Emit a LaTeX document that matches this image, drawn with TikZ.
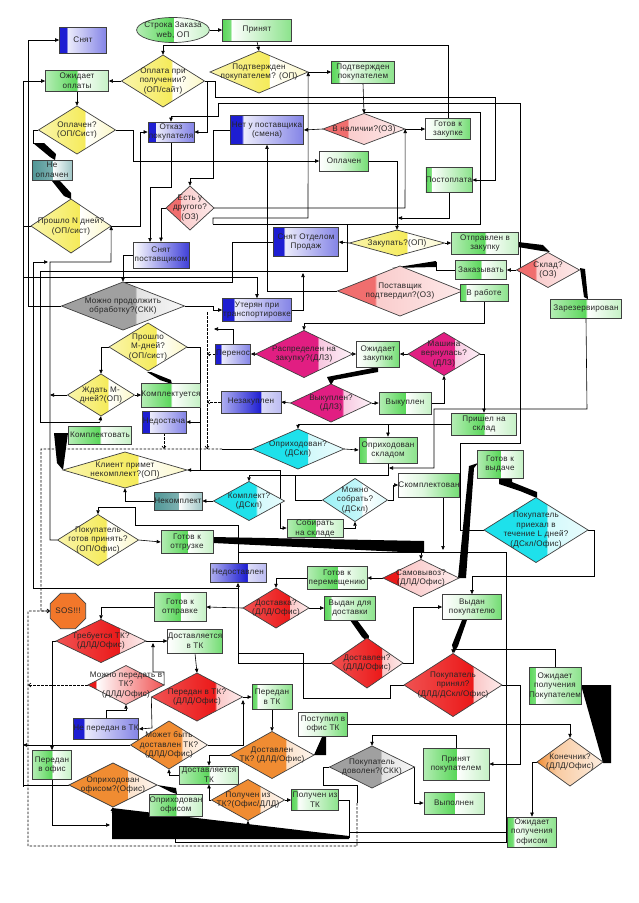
\documentclass[tikz,border=0pt]{standalone}
\usepackage{fontspec}
\setmainfont{Liberation Sans}[LetterSpace=3]
\usetikzlibrary{arrows.meta,shapes.geometric}
\definecolor{G}{RGB}{90,215,90}
\definecolor{B}{RGB}{30,30,210}
\definecolor{T}{RGB}{80,150,150}
\definecolor{Y}{RGB}{245,235,90}
\definecolor{R}{RGB}{235,25,25}
\definecolor{P}{RGB}{240,110,110}
\definecolor{M}{RGB}{225,30,130}
\definecolor{C}{RGB}{30,225,235}
\definecolor{O}{RGB}{240,140,50}
\definecolor{K}{RGB}{160,160,160}
\pgfdeclarehorizontalshading{gS}{100bp}{color(0bp)=(G); color(25bp)=(G); color(31bp)=(G!80!white); color(31.5bp)=(white); color(75bp)=(G!70!white); color(100bp)=(G!70!white)}
\pgfdeclarehorizontalshading{gL}{100bp}{color(0bp)=(G!45!white); color(25bp)=(G!45!white); color(50bp)=(G); color(50.5bp)=(white); color(75bp)=(G!35!white); color(100bp)=(G!35!white)}
\pgfdeclarehorizontalshading{gR}{100bp}{color(0bp)=(white); color(25bp)=(white); color(45bp)=(G!20!white); color(75bp)=(G!85!white); color(100bp)=(G!85!white)}
\pgfdeclarehorizontalshading{bS}{100bp}{color(0bp)=(B); color(25bp)=(B); color(33bp)=(B); color(33.5bp)=(B!8!white); color(75bp)=(B!55!white); color(100bp)=(B!55!white)}
\pgfdeclarehorizontalshading{bR}{100bp}{color(0bp)=(B!35!white); color(25bp)=(B!35!white); color(58bp)=(B); color(58.5bp)=(B!15!white); color(75bp)=(B!30!white); color(100bp)=(B!30!white)}
\pgfdeclarehorizontalshading{bG}{100bp}{color(0bp)=(white); color(25bp)=(white); color(75bp)=(B!85!white); color(100bp)=(B!85!white)}
\pgfdeclarehorizontalshading{tS}{100bp}{color(0bp)=(T); color(25bp)=(T); color(50bp)=(T!75!white); color(50.5bp)=(white); color(75bp)=(T!55!white); color(100bp)=(T!55!white)}
\pgfdeclarehorizontalshading{dY}{100bp}{color(0bp)=(Y!50!white); color(25bp)=(Y!50!white); color(55bp)=(Y); color(55.5bp)=(white); color(75bp)=(Y!35!white); color(100bp)=(Y!35!white)}
\pgfdeclarehorizontalshading{dR}{100bp}{color(0bp)=(R!75!white); color(25bp)=(R!75!white); color(60bp)=(R); color(60.5bp)=(R!25!white); color(75bp)=(R!8!white); color(100bp)=(R!8!white)}
\pgfdeclarehorizontalshading{dRs}{100bp}{color(0bp)=(R); color(25bp)=(R); color(35bp)=(R); color(35.5bp)=(R!25!white); color(75bp)=(R!8!white); color(100bp)=(R!8!white)}
\pgfdeclarehorizontalshading{dRg}{100bp}{color(0bp)=(R); color(25bp)=(R); color(30bp)=(R); color(30.5bp)=(white); color(75bp)=(R!75!white); color(100bp)=(R!75!white)}
\pgfdeclarehorizontalshading{dP}{100bp}{color(0bp)=(P); color(25bp)=(P); color(40bp)=(P); color(40.5bp)=(P!35!white); color(75bp)=(P!15!white); color(100bp)=(P!15!white)}
\pgfdeclarehorizontalshading{dM}{100bp}{color(0bp)=(M); color(25bp)=(M); color(57bp)=(M); color(57.5bp)=(M!25!white); color(75bp)=(M!5!white); color(100bp)=(M!5!white)}
\pgfdeclarehorizontalshading{dC}{100bp}{color(0bp)=(C); color(25bp)=(C); color(55bp)=(C); color(55.5bp)=(C!20!white); color(75bp)=(C!10!white); color(100bp)=(C!10!white)}
\pgfdeclarehorizontalshading{dCl}{100bp}{color(0bp)=(C!45!white); color(25bp)=(C!45!white); color(55bp)=(C!25!white); color(55.5bp)=(white); color(75bp)=(C!15!white); color(100bp)=(C!15!white)}
\pgfdeclarehorizontalshading{dO}{100bp}{color(0bp)=(O); color(25bp)=(O); color(58bp)=(O); color(58.5bp)=(O!25!white); color(75bp)=(O!8!white); color(100bp)=(O!8!white)}
\pgfdeclarehorizontalshading{dOl}{100bp}{color(0bp)=(O); color(25bp)=(O); color(40bp)=(O!45!white); color(75bp)=(O!15!white); color(100bp)=(O!15!white)}
\pgfdeclarehorizontalshading{dK}{100bp}{color(0bp)=(K); color(25bp)=(K); color(55bp)=(K); color(55.5bp)=(K!30!white); color(75bp)=(K!8!white); color(100bp)=(K!8!white)}
\pgfdeclarelayer{bottom}
\pgfdeclarelayer{bg}
\pgfsetlayers{bottom,bg,main}
\tikzset{
  bxs/.style={rectangle,draw=black!75,line width=0.7pt,shade},
  ln/.style={draw=black,line width=0.6pt},
  ar/.style={ln,-{Triangle[length=4pt,width=3.4pt]}},
  dsh/.style={ln,dash pattern=on 2.5pt off 1.5pt,-{Straight Barb[length=2.5pt,width=4pt]}},
}
\newcommand\mybox[7]{\node[bxs,shading=#6,minimum width=#4pt,minimum height=#5pt] (#1) at (#2,#3) {#7};}
\newcommand\mydia[7]{\path[draw=black!75,line width=0.7pt,shade,shading=#6] ({#2-#4/2},#3) -- (#2,{#3-#5/2}) -- ({#2+#4/2},#3) -- (#2,{#3+#5/2}) -- cycle; \node[minimum width=#4pt,minimum height=#5pt] (#1) at (#2,#3) {#7};}
\begin{document}
\begin{tikzpicture}[x=1pt,y=-1pt,every node/.style={font=\fontsize{8.1}{9.7}\selectfont,align=center,inner sep=0pt,text=black!85}]
\begin{pgfonlayer}{bottom}
\fill[white] (0,0) rectangle (638,903);
\end{pgfonlayer}
\useasboundingbox (0,0) rectangle (638,903);
% ---------- nodes
\mybox{snyat}{83}{40}{47}{26}{bS}{Снят}
\node[ellipse,draw=black!75,line width=0.7pt,shade,shading=gL,minimum width=72pt,minimum height=25pt,inner sep=-3pt] (start) at (173,30) {Строка Заказа\\web, ОП};
\mybox{prinyat}{257}{30}{69}{22}{gS}{Принят}
\mybox{ozhopl}{77}{81}{63}{21}{gL}{Ожидает\\оплаты}
\mydia{dOplpol}{163}{81}{83}{52}{dY}{Оплата при\\получении?\\(ОП/сайт)}
\mydia{dPodtv}{259}{72}{98}{42}{dY}{Подтвержден\\покупателем? (ОП)}
\mybox{podtv}{363}{72}{63}{22}{gS}{Подтвержден\\покупателем}
\mydia{dOplachen}{77}{130}{77}{48}{dY}{Оплачен?\\(ОП/Сист)}
\mybox{otkaz}{171}{132}{46}{20}{bS}{Отказ\\покупателя}
\mybox{netpost}{267}{130}{73}{29}{bS}{Нет у поставщика\\(смена)}
\mydia{dVnal}{364}{129}{82}{31}{dP}{В наличии?(ОЗ)}
\mybox{gotzak}{448}{129}{45}{21}{gR}{Готов к\\закупке}
\mybox{oplachen}{344}{161}{49}{20}{gR}{Оплачен}
\mybox{postopl}{449}{180}{46}{25}{gS}{Постоплата}
\mybox{neopl}{52}{170}{40}{20}{tS}{Не\\оплачен}
\mydia{dEst}{190}{208}{48}{44}{dP}{Есть у\\другого?\\(ОЗ)}
\mydia{dNday}{71}{226}{80}{54}{dY}{Прошло N дней?\\(ОП/сист)}
\mybox{snpost}{161}{255}{56}{26}{bG}{Снят\\поставщиком}
\mybox{snop}{306}{242}{65}{29}{bS}{Снят Отделом\\Продаж}
\mydia{dZakup}{397}{243}{95}{26}{dY}{Закупать?(ОП)}
\mybox{otpr}{485}{243}{67}{22}{gL}{Отправлен в\\закупку}
\mydia{dSklad}{548}{270}{63}{35}{dP}{Склад?\\(ОЗ)}
\mybox{zakaz}{481}{270}{51}{19}{gL}{Заказывать}
\mydia{dPostp}{400}{291}{125}{50}{dP}{Поставщик\\подтвердил?(ОЗ)}
\mybox{vrab}{484}{293}{48}{17}{gS}{В работе}
\mybox{zarez}{586}{309}{71}{19}{gL}{Зарезервирован}
\mydia{dMozhno}{123}{306}{123}{48}{dK}{Можно продолжить\\обработку?(СКК)}
\mybox{uteryan}{257}{310}{69}{23}{bS}{Утерян при\\транспортировке}
\mydia{dMdney}{148}{347}{78}{48}{dY}{Прошло\\М-дней?\\(ОП/сист)}
\mybox{perenos}{233}{354}{35}{20}{bS}{Перенос}
\mydia{dRaspr}{304}{354}{97}{47}{dM}{Распределен на\\закупку?(ДЛЗ)}
\mybox{ozhzak}{378}{354}{43}{26}{gR}{Ожидает\\закупки}
\mydia{dMash}{444}{354}{72}{43}{dM}{Машина\\вернулась?\\(ДЛЗ)}
\mydia{dZhdat}{101}{395}{67}{42}{dY}{Ждать М-\\дней?(ОП)}
\mybox{komplts}{171}{395}{56}{24}{gL}{Комплектуется}
\mybox{nezak}{251}{402}{60}{22}{bR}{Незакуплен}
\mydia{dVykup}{331}{403}{81}{38}{dM}{Выкуплен?\\(ДЛЗ)}
\mybox{vykup}{405}{403}{52}{22}{gL}{Выкуплен}
\mybox{nedost}{164}{422}{44}{22}{bS}{Недостача}
\mybox{prishel}{484}{424}{65}{22}{gL}{Пришел на\\склад}
\mybox{komplvt}{100}{435}{63}{18}{gL}{Комплектовать}
\mydia{dOprih}{298}{449}{92}{40}{dC}{Оприходован?\\(ДСкл)}
\mybox{oprsk}{388}{450}{58}{26}{gS}{Оприходован\\складом}
\mybox{gotvyd}{500}{464}{46}{28}{gL}{Готов к\\выдаче}
\mydia{dKlient}{125}{470}{124}{36}{dY}{Клиент примет\\некомплект?(ОП)}
\mybox{skompl}{429}{485}{58}{24}{gR}{Скомплектован}
\mybox{nekompl}{178}{501}{48}{18}{tS}{Некомплект}
\mydia{dKompl}{249}{501}{71}{39}{dC}{Комплект?\\(ДСкл)}
\mydia{dSobrat}{355}{500}{65}{43}{dCl}{Можно\\собрать?\\(ДСкл)}
\mybox{sobirat}{315}{528}{56}{18}{gL}{Собирать\\на складе}
\mydia{dPriehal}{536}{530}{104}{65}{dC}{Покупатель\\приехал в\\течение L дней?\\(ДСкл/Офис)}
\mydia{dGotov}{98}{540}{81}{51}{dY}{Покупатель\\готов принять?\\(ОП/Офис)}
\mybox{gototg}{187}{542}{52}{23}{gL}{Готов к\\отгрузке}
\mybox{nedostavl}{238}{573}{56}{19}{bR}{Недоставлен}
\mybox{gotper}{337}{578}{60}{23}{gL}{Готов к\\перемещению}
\mydia{dSamov}{421}{578}{76}{37}{dRs}{Самовывоз?\\(ДЛД/Офис)}
\node[regular polygon,regular polygon sides=8,minimum size=32pt,draw=black!75,line width=0.7pt,fill=O!85!red] (sos) at (68,611) {SOS!!!};
\mybox{gototpr}{180}{607}{52}{29}{gL}{Готов к\\отправке}
\mydia{dDostavka}{276}{608}{66}{40}{dR}{Доставка?\\(ДЛД/Офис)}
\mybox{vyddost}{350}{608}{51}{24}{gS}{Выдан для\\доставки}
\mybox{vydpok}{472}{607}{59}{25}{gR}{Выдан\\покупателю}
\mydia{dTreb}{101}{641}{90}{43}{dR}{Требуется ТК?\\(ДЛД/Офис)}
\mybox{dostvtk}{195}{641}{54}{24}{gR}{Доставляется\\в ТК}
\mydia{dDostavlen}{367}{663}{72}{50}{dR}{Доставлен?\\(ДЛД/Офис)}
\mydia{dPrinyal}{453}{685}{98}{63}{dR}{Покупатель\\принял?\\(ДЛД/ДСкл/Офис)}
\mybox{ozhpok}{555}{686}{52}{37}{gS}{Ожидает\\получения\\Покупателем}
\mydia{dMozhper}{126}{685}{76}{39}{dRg}{Можно передать в\\ТК?\\(ДЛД/Офис)}
\mydia{dPeredan}{197}{697}{91}{48}{dR}{Передан в ТК?\\(ДЛД/Офис)}
\mybox{peredantk}{272}{697}{40}{25}{gS}{Передан\\в ТК}
\mybox{neperedan}{106}{729}{65}{21}{bS}{Не передан в ТК}
\mydia{dMozhetbyt}{169}{745}{77}{48}{dO}{Может быть\\доставлен ТК?\\(ДЛД/Офис)}
\mybox{postupil}{323}{724}{49}{24}{gR}{Поступил в\\офис ТК}
\mydia{dDosttk}{272}{755}{84}{47}{dO}{Доставлен\\ТК? (ДЛД/Офис)}
\mybox{dostvtk2}{209}{775}{59}{18}{gL}{Доставляется\\ТК}
\mybox{peredanofis}{52}{765}{39}{29}{gL}{Передан\\в офис}
\mydia{dOprofis}{113}{785}{88}{44}{dO}{Оприходован\\офисом?(Офис)}
\mybox{oprofis}{176}{805}{53}{22}{gL}{Оприходован\\офисом}
\mydia{dPoluchen}{248}{800}{73}{41}{dO}{Получен из\\ТК?(Офис/ДЛД)}
\mybox{poluchentk}{315}{800}{47}{21}{gS}{Получен из\\ТК}
\mydia{dDovolen}{372}{767}{85}{42}{dK}{Покупатель\\доволен?(СКК)}
\mybox{prinpok}{456}{764}{66}{32}{gL}{Принят\\покупателем}
\mydia{dKonech}{570}{762}{66}{48}{dOl}{Конечник?\\(ДЛД/Офис)}
\mybox{vypolnen}{454}{803}{60}{22}{gL}{Выполнен}
\mybox{ozhofis}{532}{832}{49}{30}{gS}{Ожидает\\получения\\офисом}
% ---------- connectors
\begin{pgfonlayer}{bg}
\draw[ar] (start.east) -- (prinyat.west);
\draw[ar] (prinyat.south) -- (dPodtv.north);
\draw[ar] (gotzak.north) -- (448,45) -- (163,45) -- (dOplpol.north);
\draw[ar] (dOplpol.west) -- (ozhopl.east);
\draw[ar] (dOplpol.east) -- (215,81) -- (215,97) -- (495,97) -- (495,180) -- (postopl.east);
\draw[ar] (ozhopl.south) -- (dOplachen.north);
\draw[ar] (dNday.west) -- (23,226) -- (23,81) -- (ozhopl.west);
\draw[ln] (23,226) -- (23,787);
\draw[ar] (dMozhno.west) -- (28,306) -- (28,40) -- (snyat.west);
\draw[ln] (dOplachen.west) -- (33,130) -- (33,144);
\fill (33,143) -- (44,143) -- (56,154) -- (55,160) -- (50,157) -- cycle;
\fill (52,181) -- (60,181) -- (71,193) -- (71,199) -- (64,196) -- cycle;
\draw[ar] (dOplachen.east) -- (133,130) -- (133,161) -- (oplachen.west);
\draw[ar] (oplachen.east) -| (dZakup.north);
\draw[ar] (postopl.south) -- (449,218) -- (398,218);
\draw[ar] (dNday.east) -- (140,226) -- (140,132) -- (otkaz.west);
\draw[ar] (207,81) -- (207,132) -- (otkaz.east);
\draw[ar] (dPriehal.west) -- (460,530) -- (460,443) -- (520,443) -- (520,103) -- (218,103) -- (218,116) -- (171,116) -- (otkaz.north);
\draw[ar] (dPodtv.east) -- (podtv.west);
\draw[ar] (podtv.south) -- (dVnal.north);
\draw[ar] (100,422) -- (dZhdat.south);
\draw[ln] (100,422) -- (40,422) -- (40,271) -- (347,271) -- (347,224) -- (480,224) -- (480,112) -- (364,112);
\draw[ln] (213,224) -- (347,224);
\draw[ar] (213,224) -- (213,218) -- (308,218) -- (dPodtv.east);
\draw[ar] (netpost.west) -- (213,130) -- (213,178) -- (190,178) -- (dEst.north);
\draw[ar] (dEst.east) -- (405,208) -- (dVnal.east);
\draw[ar] (dEst.west) -| (snpost.north);
\draw[ar] (otkaz.south) -- (171,187) -- (150,187) -- (150,242);
\draw[ar] (dVnal.west) -- (netpost.east);
\draw[ar] (dVnal.east) -- (gotzak.west);
\draw[ar] (dPostp.west) -| (netpost.south);
\draw[ar] (dZakup.west) -- (snop.east);
\draw[ar] (dZakup.east) -- (otpr.west);
\draw[ar] (snpost.west) -| (dMozhno.north);
\draw[ln] (snop.west) -- (232,242) -- (232,282) -- (123,282);
\draw[ar] (uteryan.east) -- (303,310) -- (303,273);
\draw[ar] (23,277) -- (257,277) -- (uteryan.north);
\draw[ar] (dMozhno.east) -- (213,306) -- (213,310) -- (uteryan.west);
\draw[ar] (perenos.north) -- (233,329) -- (214,329);
\draw[ar] (vrab.south) -- (484,323) -- (304,323) -- (dRaspr.north);
\draw[ar] (dRaspr.west) -- (perenos.east);
\draw[ar] (dRaspr.east) -- (ozhzak.west);
\draw[ar] (dMash.west) -- (ozhzak.east);
\fill (378,367) -- (378,372) -- (334,380) -- (331,385) -- (327,377) -- cycle;
\draw[ar] (dVykup.west) -- (nezak.east);
\draw[ar] (dVykup.east) -- (vykup.west);
\draw[ar] (vykup.east) -- (444,403) -- (dMash.south);
\draw[ar] (dMash.east) -- (484,354) -- (prishel.north);
\draw[ar] (dSklad.west) -- (zakaz.east);
\draw[ln] (zakaz.west) -- (436,270) -- (436,262);
\fill (436,261) -- (436,267) -- (392,268) -- cycle;
\draw[ar] (dPostp.east) -- (vrab.west);
\fill (518,242) -- (543,245) -- (550,252) -- (542,251) -- (518,247) -- cycle;
\fill (580,268) -- (585,269) -- (588,299) -- (584,297) -- cycle;
\draw[ar] (zarez.south) -- (587,409) -- (434,409) -- (434,468) -- (389,468);
\draw[ar] (oprsk.south) -- (388,475) -- (249,475) -- (dKompl.north);
\draw[ln] (295,475) -- (295,500) -- (dSobrat.west);
\draw[ar] (prishel.west) -- (298,424) -- (dOprih.north);
\draw[ar] (388,424) -- (oprsk.north);
\draw[ar] (dOprih.east) -- (oprsk.west);
\draw[ln] (dOprih.west) -- (222,449);
\draw[dsh] (222,449) -- (41,449) -- (41,611) -- (sos.west);
\draw[dsh] (nedost.south) -- (164,449);
\draw[dsh] (207,312) -- (207,449);
\draw[dsh] (perenos.west) -- (207,354);
\draw[dsh] (nezak.west) -- (207,402);
\draw[ar] (dMdney.east) -- (200,347) -- (200,470) -- (dKlient.east);
\draw[ar] (200,422) -- (nedost.east);
\draw[ar] (200,470) -- (280,470) -- (280,528) -- (sobirat.west);
\draw[ar] (nekompl.west) -| (dKlient.south);
\draw[ar] (dKompl.west) -- (nekompl.east);
\draw[ar] (sobirat.east) -- (355,528) -- (dSobrat.south);
\draw[ar] (dSobrat.east) -- (393,500) -- (393,485) -- (skompl.west);
\draw[ar] (443,497) -- (443,550);
\draw[ln] (238,552) -- (506,552) -- (506,842) -- (175,842) -- (175,838);
\draw[ar] (421,552) -- (dSamov.north);
\fill (213,537) -- (424,541) -- (424,553) -- (213,543) -- cycle;
\draw[ar] (dSamov.west) -- (gotper.east);
\draw[ar] (gotper.west) -| (dDostavka.north);
\fill (458,578) -- (466,578) -- (474,468) -- (478,463) -- (469,466) -- cycle;
\fill (499,478) -- (512,478) -- (512,482) -- (537,492) -- (537,498) -- (520,491) -- (499,484) -- cycle;
\draw[ar] (dPriehal.east) -- (594,530) -- (594,576) -- (472,576) -- (vydpok.north);
\draw[ar] (dDostavka.west) -- (gototpr.east);
\draw[ar] (dDostavka.east) -- (vyddost.west);
\fill (350,620) -- (357,620) -- (369,636) -- (368,642) -- (362,637) -- cycle;
\draw[ar] (dDostavlen.east) -- (413,663) -- (413,607) -- (vydpok.west);
\fill (462,620) -- (467,620) -- (458,646) -- (454,653) -- (452,645) -- cycle;
\draw[ar] (ozhpok.north) |- (453,649) -- (dPrinyal.north);
\draw[ar] (dPrinyal.east) -- (520,685) -- (520,764) -- (prinpok.east);
\draw[ln] (dPrinyal.west) -- (390,685) -- (390,698) -- (303,698) -- (303,653) -- (238,653);
\draw[ar] (dDostavlen.west) -- (238,663) -- (nedostavl.south);
\draw[ln] (33,588) -- (238,588);
\draw[ar] (33,588) -- (33,262) -- (48,262);
\draw[ar] (nedostavl.north) -- (238,525) -- (135,525) -- (135,507) -- (98,507) -- (dGotov.north);
\draw[ar] (dGotov.east) -- (gototg.west);
\draw[ar] (dGotov.west) -- (50,540) -- (50,262) -- (111,262) -- (dNday.east);
\draw[ar] (dZhdat.west) -- (50,395);
\draw[ar] (dZhdat.east) -- (komplts.west);
\draw[ar] (dMdney.west) -- (101,347) -- (dZhdat.north);
\fill (147,372) -- (151,372) -- (171,380) -- (172,384) -- (160,380) -- cycle;
\fill (54,433) -- (68,433) -- (63,470) -- (57,463) -- cycle;
\draw[ar] (gototpr.west) -| (dTreb.north);
\draw[ar] (dTreb.east) -- (dostvtk.west);
\draw[ar] (dTreb.west) -- (52,641) -- (peredanofis.north);
\draw[ar] (dMozhper.east) -- (164,672) -- (153,672) -- (153,643);
\draw[ar] (dostvtk.south) -- (dPeredan.north);
\draw[ar] (dPeredan.east) -- (peredantk.west);
\draw[ar] (dPeredan.west) -- (152,728) -- (neperedan.east);
\draw[ar] (neperedan.north) -- (106,710) -- (126,710) -- (dMozhper.south);
\draw[dsh] (dMozhper.west) -- (28,685);
\draw[ar] (peredantk.south) -- (dDosttk.north);
\draw[ar] (dMozhetbyt.east) -- (243,745) -- (243,700);
\draw[ar] (dMozhetbyt.west) -- (23,745);
\draw[ar] (dDosttk.west) -- (209,755) -- (dostvtk2.north);
\draw[ar] (dostvtk2.west) -- (169,775) -- (dMozhetbyt.south);
\draw[ar] (dPoluchen.west) -- (209,800) -- (dostvtk2.south);
\fill (314,755) -- (326,755) -- (326,737) -- (322,737) -- cycle;
\draw[ar] (dPoluchen.east) -- (poluchentk.west);
\draw[ln] (poluchentk.east) -- (349,800) -- (349,838);
\fill (112,808) -- (349,836) -- (349,839) -- (112,839) -- cycle;
\draw[ar] (248,827) -- (dPoluchen.south);
\draw[ar] (112,813) -- (dOprofis.south);
\draw[ar] (peredanofis.south) -- (52,825) -- (110,825);
\draw[ln] (dOprofis.west) -- (23,785);
\fill (157,785) -- (176,788) -- (177,794) -- (171,792) -- cycle;
\draw[ar] (postupil.east) -- (570,724) -- (dKonech.north);
\draw[ar] (prinpok.north) -- (456,735) -- (372,735) -- (dDovolen.north);
\draw[ar] (dDovolen.east) -- (414,767) -- (414,803) -- (vypolnen.west);
\draw[ln] (dDovolen.west) -- (323,767) -- (323,785) -- (357,785) -- (357,803);
\draw[dsh] (357,803) -- (357,846) -- (28,846) -- (28,611) -- (sos.west);
\fill (581,685) -- (611,685) -- (611,763) -- (603,763) -- cycle;
\draw[ar] (dKonech.west) -| (ozhofis.north);
\draw[ln] (ozhofis.west) -- (349,832);
\end{pgfonlayer}
\end{tikzpicture}
\end{document}
